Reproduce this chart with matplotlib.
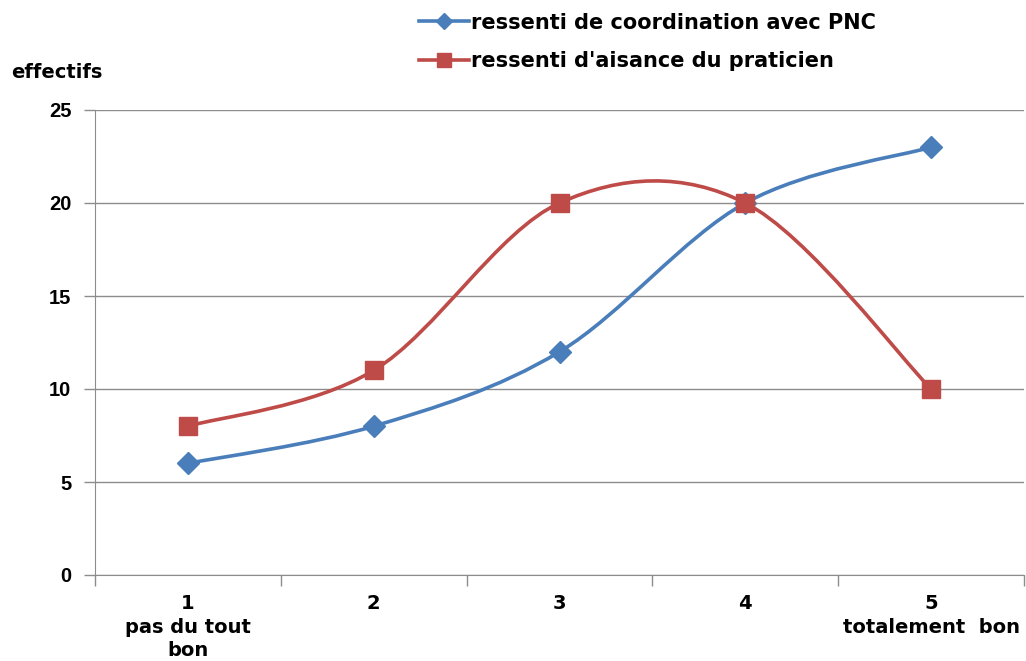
import numpy as np
import matplotlib
matplotlib.use('Agg')
import matplotlib.pyplot as plt
from matplotlib.path import Path
from matplotlib.patches import PathPatch
from matplotlib.lines import Line2D

plt.rcParams['font.family'] = ['DejaVu Sans']
plt.rcParams['font.weight'] = 'bold'

categories = [1, 2, 3, 4, 5]
cat_labels = ['1\npas du tout\nbon', '2', '3', '4', '5\ntotalement  bon']
coordination = [6, 8, 12, 20, 23]
aisance = [8, 11, 20, 20, 10]
label_coord = 'ressenti de coordination avec PNC'
label_ais = "ressenti d'aisance du praticien"

blue = '#4A7EBB'
red = '#BE4B48'
grey = '#8c8c8c'


def smooth_path(x, y):
    # lissage type Excel : bezier cubique, points de controle catmull-rom
    pts = np.column_stack([x, y]).astype(float)
    n = len(pts)
    verts = [pts[0]]
    codes = [Path.MOVETO]
    for i in range(n - 1):
        p0 = pts[i - 1] if i > 0 else pts[i]
        p1 = pts[i]
        p2 = pts[i + 1]
        p3 = pts[i + 2] if i + 2 < n else pts[i + 1]
        c1 = p1 + (p2 - p0) / 6
        c2 = p2 - (p3 - p1) / 6
        verts += [c1, c2, p2]
        codes += [Path.CURVE4] * 3
    return Path(verts, codes)


fig = plt.figure(figsize=(10.26, 6.61), dpi=100)
ax = fig.add_axes([95 / 1026, 1 - 575 / 661, 929 / 1026, (575 - 110) / 661])

ax.set_xlim(0.5, 5.5)
ax.set_ylim(0, 25)

for vals, col, mk, ms in [(coordination, blue, 'D', 11), (aisance, red, 's', 13)]:
    ax.add_patch(PathPatch(smooth_path(categories, vals), facecolor='none',
                           edgecolor=col, lw=2.6, zorder=3))
    ax.plot(categories, vals, ls='none', marker=mk, ms=ms, color=col, zorder=4)

ax.set_yticks([0, 5, 10, 15, 20, 25])
ax.yaxis.grid(True, color=grey, lw=1)
ax.set_axisbelow(True)
ax.tick_params(axis='y', length=8, width=1, color=grey, pad=9)
for lab in ax.get_yticklabels():
    lab.set_fontfamily('Liberation Sans')
    lab.set_fontsize(14.5)

ax.set_xticks(np.arange(0.5, 6, 1))
ax.set_xticklabels([])
ax.tick_params(axis='x', which='major', length=8, width=1, color=grey)
ax.set_xticks(categories, minor=True)
ax.set_xticklabels(cat_labels, minor=True, fontsize=14, linespacing=1.28)
ax.tick_params(axis='x', which='minor', length=0, pad=14)

for s in ['top', 'right']:
    ax.spines[s].set_visible(False)
for s in ['left', 'bottom']:
    ax.spines[s].set_color(grey)

fig.text(11 / 1026, 1 - 72 / 661, 'effectifs', fontsize=14, va='center', ha='left')

handles = [Line2D([], [], color=blue, lw=2.6, marker='D', ms=8),
           Line2D([], [], color=red, lw=2.6, marker='s', ms=10)]
fig.legend(handles, [label_coord, label_ais], loc='upper left',
           bbox_to_anchor=(400 / 1026, 1 + 6 / 661), frameon=False,
           fontsize=15, labelspacing=0.9, handlelength=2.4, handletextpad=0.1)

fig.savefig('out.png', dpi=100)
